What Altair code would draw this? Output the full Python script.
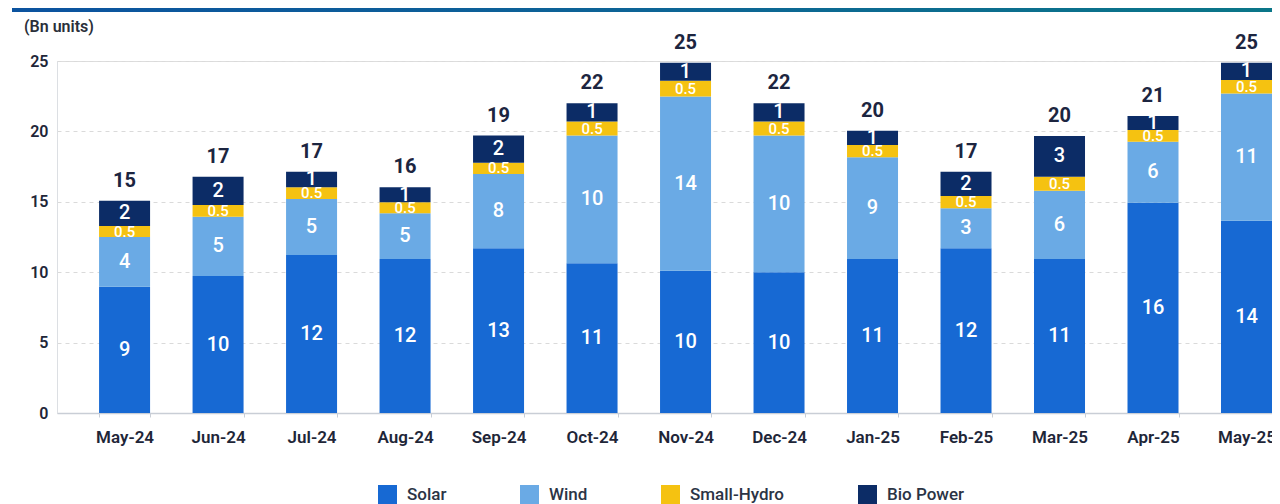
import altair as alt
import pandas as pd

months = ["May-24", "Jun-24", "Jul-24", "Aug-24", "Sep-24", "Oct-24", "Nov-24",
          "Dec-24", "Jan-25", "Feb-25", "Mar-25", "Apr-25", "May-25"]
series = ["Solar", "Wind", "Small-Hydro", "Bio Power"]
colors = ["#1769d3", "#6aaae5", "#f5c211", "#0c2c66"]

# segment heights (Bn units)
solar = [8.97, 9.73, 11.22, 10.94, 11.70, 10.63, 10.11, 9.99, 10.94, 11.70, 10.94, 14.94, 13.66]
wind = [3.53, 4.21, 3.98, 3.24, 5.27, 9.07, 12.36, 9.71, 7.22, 2.84, 4.85, 4.33, 9.04]
hydro = [0.78, 0.83, 0.83, 0.78, 0.81, 1.00, 1.13, 1.00, 0.87, 0.87, 0.99, 0.83, 0.95]
bio = [1.80, 2.01, 1.11, 1.07, 1.92, 1.30, 1.28, 1.30, 1.02, 1.73, 2.89, 0.99, 1.23]

# printed labels
solar_lbl = ["9", "10", "12", "12", "13", "11", "10", "10", "11", "12", "11", "16", "14"]
wind_lbl = ["4", "5", "5", "5", "8", "10", "14", "10", "9", "3", "6", "6", "11"]
hydro_lbl = ["0.5"] * 13
bio_lbl = ["2", "2", "1", "1", "2", "1", "1", "1", "1", "2", "3", "1", "1"]
total_lbl = ["15", "17", "17", "16", "19", "22", "25", "22", "20", "17", "20", "21", "25"]

rows = []
for i, m in enumerate(months):
    base = 0.0
    for k, (s, vals, lbls) in enumerate(zip(series, [solar, wind, hydro, bio],
                                            [solar_lbl, wind_lbl, hydro_lbl, bio_lbl])):
        v = vals[i]
        rows.append(dict(month=m, series=s, order=k, start=base, end=base + v,
                         mid=base + v / 2, label=lbls[i]))
        base += v
df = pd.DataFrame(rows)
tot = pd.DataFrame(dict(month=months,
                        total=[solar[i] + wind[i] + hydro[i] + bio[i] for i in range(13)],
                        label=total_lbl))
one = pd.DataFrame({"t": ["(Bn units)"]})

FONT = "Roboto"
TXT = "#1e2638"

xenc = alt.X("month:N", sort=months,
             scale=alt.Scale(paddingInner=0.4545, paddingOuter=0.225, align=1),
             axis=alt.Axis(title=None, labelAngle=0, labelFont=FONT, labelFontSize=17,
                           labelFontWeight=600, labelColor=TXT, labelPadding=12,
                           ticks=True, tickBand="extent", tickSize=4, tickColor="#c9ced6",
                           domainColor="#c9ced6", domainWidth=1.5))
yscale = alt.Scale(domain=[0, 25], nice=False)

bars = alt.Chart(df).mark_bar().encode(
    x=xenc,
    y=alt.Y("start:Q", scale=yscale,
            axis=alt.Axis(title=None, values=[0, 5, 10, 15, 20, 25], labelFont=FONT,
                          labelFontSize=16, labelFontWeight=600, labelColor=TXT,
                          labelPadding=9, ticks=False, grid=True, gridDash=[4, 4],
                          gridColor="#dadada", domainColor="#dcdfe3")),
    y2="end:Q",
    color=alt.Color("series:N", sort=series,
                    scale=alt.Scale(domain=series, range=colors),
                    legend=alt.Legend(orient="none", legendX=321, legendY=424,
                                      direction="horizontal", title=None,
                                      symbolType="square", symbolSize=361,
                                      symbolStrokeWidth=0, labelFont=FONT,
                                      labelFontSize=17, labelFontWeight=500,
                                      labelColor="#2b3445", labelOffset=10,
                                      columnPadding=73)),
    order="order:Q",
)

seg_lbl = alt.Chart(df).transform_filter(alt.datum.series != "Small-Hydro").mark_text(
    color="white", font=FONT, fontSize=20, fontWeight=500, baseline="middle"
).encode(x=alt.X("month:N", sort=months), y=alt.Y("mid:Q", scale=yscale), text="label:N")

hyd_lbl = alt.Chart(df).transform_filter(alt.datum.series == "Small-Hydro").mark_text(
    color="white", font=FONT, fontSize=15, fontWeight=500, baseline="middle"
).encode(x=alt.X("month:N", sort=months), y=alt.Y("mid:Q", scale=yscale), text="label:N")

tot_lbl = alt.Chart(tot).mark_text(
    color="#1c2540", font=FONT, fontSize=20, fontWeight="bold", baseline="alphabetic", dy=-14
).encode(x=alt.X("month:N", sort=months), y=alt.Y("total:Q", scale=yscale), text="label:N")

header = alt.Chart(one).mark_rect(
    color=alt.Gradient(gradient="linear", x1=0, x2=1, y1=0, y2=0,
                       stops=[alt.GradientStop(color="#0c539f", offset=0),
                              alt.GradientStop(color="#0d6496", offset=0.5),
                              alt.GradientStop(color="#0a7688", offset=1)])
).encode(x=alt.value(-45), x2=alt.value(1215), y=alt.value(-53), y2=alt.value(-49))

title = alt.Chart(one).mark_text(
    align="left", baseline="middle", font=FONT, fontSize=16, fontWeight=600, color="#2a2f3a"
).encode(x=alt.value(-33), y=alt.value(-34), text="t:N")

chart = alt.layer(header, title, bars, seg_lbl, hyd_lbl, tot_lbl).properties(
    width=1215, height=352,
    padding={"left": 49, "top": 53, "right": 0, "bottom": 91},
    autosize=alt.AutoSizeParams(type="none"),
).configure_view(stroke=None).configure(background="white")

chart.save("out.html", embed_options={"renderer": "svg", "actions": False})
